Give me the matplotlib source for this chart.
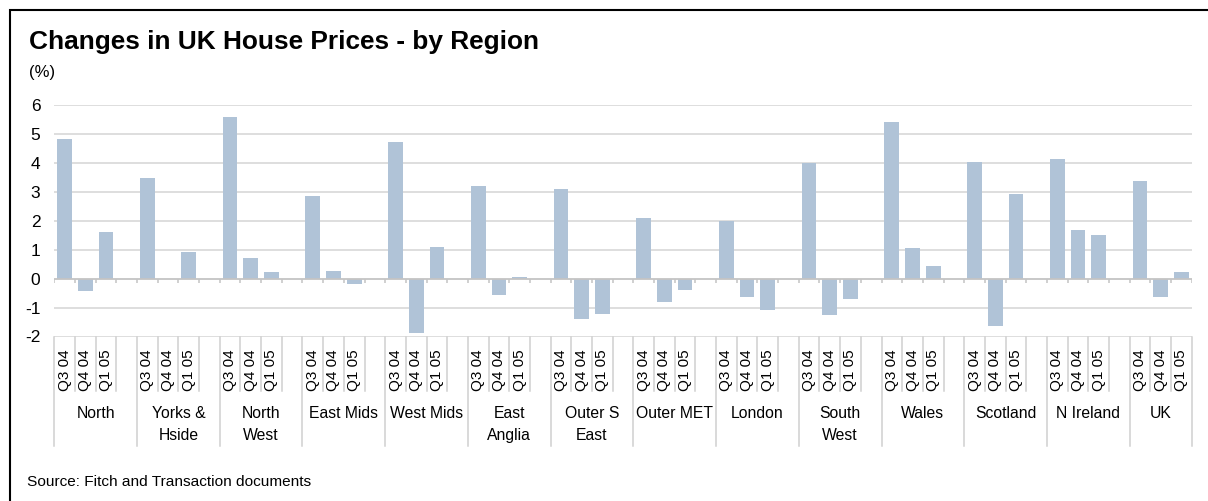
import matplotlib
matplotlib.use("Agg")
import matplotlib.pyplot as plt
import matplotlib.transforms as mtransforms
from matplotlib.patches import Rectangle

plt.rcParams['font.family'] = ['Liberation Sans', 'DejaVu Sans']

# quarterly % change in house prices, per region
regions = ["North", "Yorks &\nHside", "North\nWest", "East Mids", "West Mids",
           "East\nAnglia", "Outer S\nEast", "Outer MET", "London", "South\nWest",
           "Wales", "Scotland", "N Ireland", "UK"]
quarters = ["Q3 04", "Q4 04", "Q1 05"]
q3_04 = [4.83, 3.48, 5.60, 2.86, 4.73, 3.21, 3.10, 2.10, 2.00, 3.99, 5.42, 4.04, 4.14, 3.38]
q4_04 = [-0.44, 0.0, 0.72, 0.27, -1.88, -0.58, -1.39, -0.82, -0.65, -1.25, 1.06, -1.64, 1.68, -0.65]
q1_05 = [1.62, 0.92, 0.23, -0.17, 1.10, 0.06, -1.21, -0.41, -1.07, -0.72, 0.44, 2.93, 1.51, 0.23]

W, H = 1208, 501
def fx(px):
    return px / W
def fy(py):
    return 1 - py / H

bar_col = '#b0c3d7'
grid_col = '#d4d4d4'
sep_col = '#d0d0d0'

fig = plt.figure(figsize=(W / 100, H / 100), dpi=100)
ax = fig.add_axes([fx(54.3), fy(336.5), fx(1191.7) - fx(54.3), fy(105) - fy(336.5)])

# each region gets 3 quarter slots plus a blank slot, except the last one
n_slots = len(regions) * 4 - 1
xs, vals = [], []
for g in range(len(regions)):
    for q, series in enumerate([q3_04, q4_04, q1_05]):
        xs.append(g * 4 + q)
        vals.append(series[g])
ax.bar(xs, vals, width=0.71, color=bar_col, zorder=3)

ax.set_xlim(-0.5, n_slots - 0.5)
ax.set_ylim(-2, 6)
ax.set_yticks(range(-2, 7))
ax.set_yticklabels([str(v) for v in range(-2, 7)], fontsize=12.5)
ax.tick_params(axis='y', length=0, pad=10)
ax.set_xticks([])
for s in ax.spines.values():
    s.set_visible(False)
for v in range(-2, 7):
    if v != 0:
        ax.axhline(v, color=grid_col, lw=1.1, zorder=1)
ax.axhline(0, color='#c4c4c4', lw=1.3, zorder=4)

bounds = [k - 0.5 for k in range(n_slots + 1)]
ax.vlines(bounds, -0.14, 0, color='#c4c4c4', lw=1.1, zorder=4)

# two-level category labels under the plot
tr = mtransforms.blended_transform_factory(ax.transData, fig.transFigure)
for k, b in enumerate(bounds):
    long_line = (k % 4 == 0) or k == n_slots
    y_end = 445.7 if long_line else 391
    ax.plot([b, b], [fy(337), fy(y_end)], transform=tr, color=sep_col,
            lw=1.1, clip_on=False)

for x in xs:
    ax.text(x, fy(349), quarters[x % 4], transform=tr, rotation=90,
            ha='center', va='top', fontsize=11)

for g, name in enumerate(regions):
    last = (g == len(regions) - 1)
    cx = g * 4 + (1.0 if last else 1.5)
    ax.text(cx, fy(406), name, transform=tr, ha='center', va='top',
            fontsize=11.3, linespacing=1.6)

fig.text(fx(29), fy(42), "Changes in UK House Prices - by Region",
         fontsize=18.9, fontweight='bold', va='center', ha='left')
fig.text(fx(29), fy(72), "(%)", fontsize=12, va='center', ha='left')
fig.text(fx(27), fy(482), "Source: Fitch and Transaction documents",
         fontsize=11.1, va='center', ha='left')

fig.patches.append(Rectangle((fx(10), -0.2), 1.2, fy(10) + 0.2,
                             transform=fig.transFigure, fill=False,
                             edgecolor='black', lw=1.5))

fig.savefig("out.png", dpi=100)
